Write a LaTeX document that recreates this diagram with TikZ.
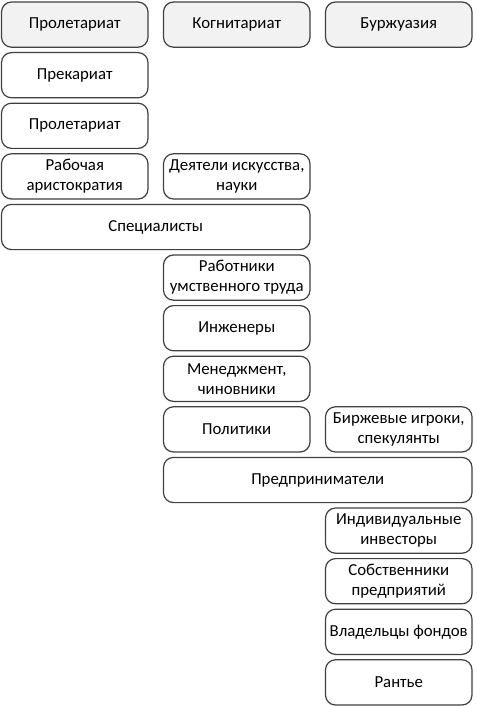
\documentclass[tikz,border=0pt]{standalone}
\usepackage{fontspec}
\setmainfont{Carlito}
\begin{document}
\begin{tikzpicture}[x=0.75pt,y=-0.75pt,
  box/.style={draw=black!75,line width=0.9pt,rounded corners=7.5pt,fill=white,align=center,
    font=\fontsize{12.6}{15}\selectfont,inner sep=0pt},
  head/.style={box,fill=black!5}]
\useasboundingbox (0,0) rectangle (477,706);
% helper: \bx{name}{x1}{x2}{row}{style}{text}
\newcommand{\bx}[6]{%
  \pgfmathsetmacro{\ytop}{2+50.6*#4}%
  \pgfmathsetmacro{\ybot}{\ytop+45.2}%
  \pgfmathsetmacro{\xw}{(#3-#2)*0.75}%
  \pgfmathsetmacro{\yh}{45.2*0.75}%
  \node[#5,minimum width=\xw pt,minimum height=\yh pt] (#1) at ({(#2+#3)/2},{(\ytop+\ybot)/2}) {#6};}
\bx{h1}{1.5}{148}{0}{head}{Пролетариат}
\bx{h2}{163.5}{310}{0}{head}{Когнитариат}
\bx{h3}{325.5}{472}{0}{head}{Буржуазия}
\bx{a1}{1.5}{148}{1}{box}{Прекариат}
\bx{a2}{1.5}{148}{2}{box}{Пролетариат}
\bx{a3}{1.5}{148}{3}{box}{Рабочая\\аристократия}
\bx{b1}{163.5}{310}{3}{box}{Деятели искусства,\\науки}
\bx{s}{1.5}{310}{4}{box}{Специалисты}
\bx{b2}{163.5}{310}{5}{box}{Работники\\умственного труда}
\bx{b3}{163.5}{310}{6}{box}{Инженеры}
\bx{b4}{163.5}{310}{7}{box}{Менеджмент,\\чиновники}
\bx{b5}{163.5}{310}{8}{box}{Политики}
\bx{c1}{325.5}{472}{8}{box}{Биржевые игроки,\\спекулянты}
\bx{p}{163.5}{472}{9}{box}{Предприниматели}
\bx{c2}{325.5}{472}{10}{box}{Индивидуальные\\инвесторы}
\bx{c3}{325.5}{472}{11}{box}{Собственники\\предприятий}
\bx{c4}{325.5}{472}{12}{box}{Владельцы фондов}
\bx{c5}{325.5}{472}{13}{box}{Рантье}
\end{tikzpicture}
\end{document}
